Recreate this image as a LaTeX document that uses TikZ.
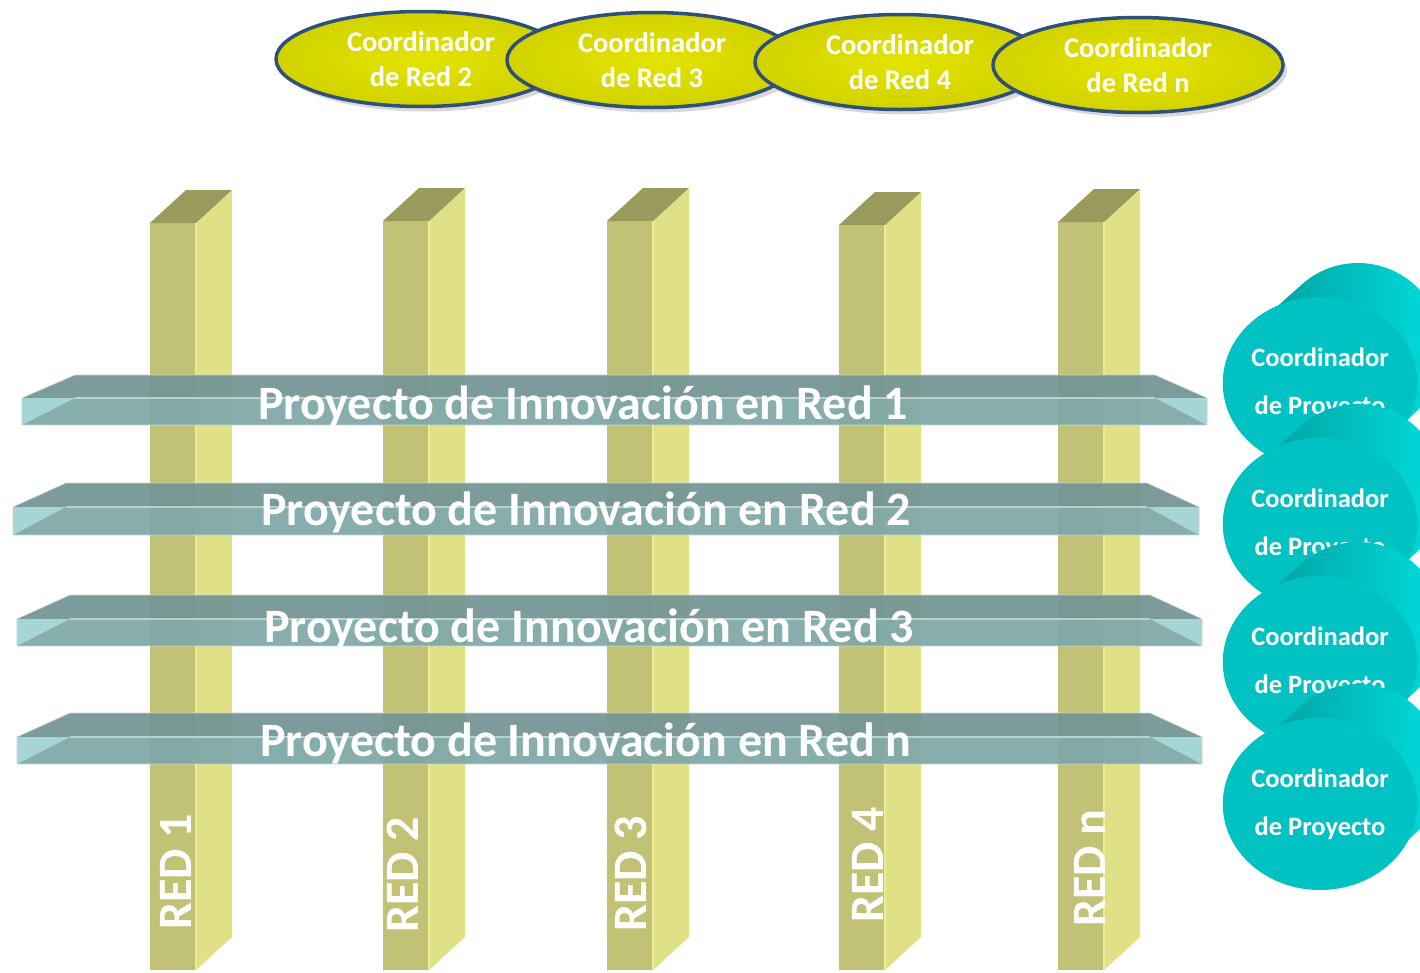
\documentclass[tikz,border=0pt]{standalone}
\usepackage{fontspec}
\setmainfont{Carlito}
\usetikzlibrary{shapes.geometric,shadows,calc}
\definecolor{pfrontc}{HTML}{C2C277}
\definecolor{psidec}{HTML}{E0E086}
\definecolor{ptopc}{HTML}{9A9A5C}
\definecolor{pedgec}{HTML}{ECEC92}
\definecolor{btopc}{HTML}{759595}
\definecolor{bfrontc}{HTML}{80A8A8}
\definecolor{bendc}{HTML}{A6D5D5}
\definecolor{blinec}{HTML}{B8D2D2}
\definecolor{bedgec}{HTML}{C4D4D4}
\definecolor{ellinc}{HTML}{E4E400}
\definecolor{elloutc}{HTML}{D2D200}
\definecolor{elllinec}{HTML}{2F5079}
\definecolor{cfrontc}{HTML}{00C2C2}
\definecolor{cdarkc}{HTML}{00A0A0}
\definecolor{clightc}{HTML}{00E2E2}
\begin{document}
\begin{tikzpicture}[x=1pt,y=-1pt,
  redlbl/.style={text=white, font=\fontsize{48}{58}\selectfont\bfseries, inner sep=0pt},
  bartext/.style={text=white, font=\fontsize{48}{58}\selectfont\bfseries, inner sep=0pt, anchor=base},
  redell/.style={ellipse, minimum width=290pt, minimum height=95pt, inner sep=0pt,
    draw=elllinec, line width=3.5pt, inner color=ellinc, outer color=elloutc,
    drop shadow={opacity=.3, shadow xshift=4pt, shadow yshift=-5pt},
    text=white, font=\fontsize{28.5}{35}\selectfont\bfseries, align=center},
  cylfront/.style={ellipse, minimum width=170pt, minimum height=172pt, inner sep=0pt,
    fill=cfrontc, text=white, font=\fontsize{26.5}{48}\selectfont\bfseries, align=center}
]
\fill[white, use as bounding box] (0,0) rectangle (1420,972);

% pillars (networks)
\foreach \L/\T/\lab/\tx/\ty/\i in {150/223/RED 1/41/930/1, 383/221/RED 2/35/933/2, 607/221/RED 3/39/932/3, 839/225/RED 4/44/923/4, 1058/222/RED n/47/927/5}{
  \fill[fill=pfrontc] (\L,\T) rectangle (\L+46,970);
  \fill[fill=psidec] (\L+46,\T) -- (\L+82,\T-33) -- (\L+82,937) -- (\L+46,970) -- cycle;
  \fill[fill=ptopc] (\L,\T) -- (\L+46,\T) -- (\L+82,\T-33) -- (\L+36,\T-33) -- cycle;
  \draw[draw=pedgec, line width=1.5pt] (\L+46,\T) -- (\L+46,970);
  \node[redlbl, anchor=base west, rotate=90] (red\i) at (\L+\tx,\ty) {\lab};
}

% project bars
\foreach \Ty/\Ey/\By/\Lf/\Rf/\tx/\tb/\k in {375/398/425/22/1207/583/419/1, 483/507/535/13/1199/586/525/2, 595/619/646/17/1202/589/642/3, 713/737/764/17/1202/586/756/n}{
  \begin{scope}[fill opacity=.94]
    \fill[fill=btopc] (\Lf+53,\Ty) -- (\Rf-52,\Ty) -- (\Rf,\Ey) -- (\Lf,\Ey) -- cycle;
    \fill[fill=bfrontc] (\Lf,\Ey) rectangle (\Rf,\By);
  \end{scope}
  \fill[fill=bendc] (\Lf,\Ey) -- (\Lf+53,\Ey) -- (\Lf,\By) -- cycle;
  \fill[fill=bendc] (\Rf-52,\Ey) -- (\Rf,\Ey) -- (\Rf,\By) -- cycle;
  \draw[draw=blinec, line width=1.2pt] (\Lf+53,\Ey) -- (\Rf-52,\Ey);
  \draw[draw=bedgec, line width=.6pt] (\Lf+53,\Ty) -- (\Rf-52,\Ty) -- (\Rf,\Ey) -- (\Rf,\By) -- (\Lf,\By) -- (\Lf,\Ey) -- cycle;
  \node[bartext] (bar\k) at (\tx,\tb) {Proyecto de Innovación en Red \k};
}

% network coordinators
\foreach \cx/\cyy/\k in {421/59/2, 652/60/3, 900/62/4, 1138/65/n}{
  \node[redell] (cr\k) at (\cx,\cyy) {Coordinador\\de Red \k};
}

% project coordinators (cylinders)
\foreach \yy/\i in {383/1, 524/2, 662/3, 804/4}{
  \coordinate (cf\i) at (1320,\yy);
  \coordinate (cb\i) at (1358,\yy-34);
  \shade[left color=cdarkc, right color=clightc]
    ($(cf\i)+(49.5:85 and 86)$) -- ($(cb\i)+(49.5:85 and 86)$)
    arc[start angle=49.5, end angle=-130.5, x radius=85, y radius=86]
    -- ($(cf\i)+(-130.5:85 and 86)$) -- cycle;
  \node[cylfront] (cp\i) at (cf\i) {Coordinador\\de Proyecto};
}
\end{tikzpicture}
\end{document}
